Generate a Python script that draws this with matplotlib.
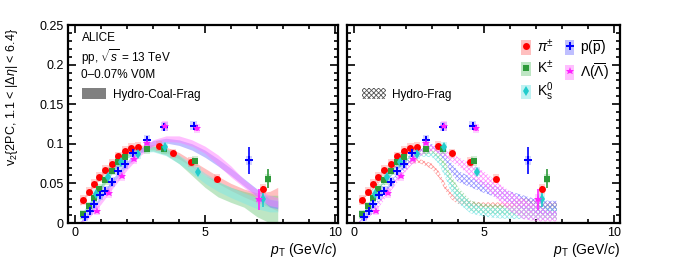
import matplotlib
matplotlib.use('Agg')
import matplotlib.pyplot as plt
from matplotlib.patches import Rectangle, Patch
from matplotlib.lines import Line2D
from matplotlib.ticker import MultipleLocator

plt.rcParams['font.family'] = ['Liberation Sans', 'DejaVu Sans']
plt.rcParams['mathtext.fontset'] = 'custom'
plt.rcParams['mathtext.rm'] = 'Liberation Sans'
plt.rcParams['mathtext.it'] = 'Liberation Sans:italic'
plt.rcParams['mathtext.bf'] = 'Liberation Sans:bold'
plt.rcParams['hatch.linewidth'] = 0.6

# measured v2 (ALICE, pp 13 TeV, 0-0.07% V0M)
pi_pt = [0.32, 0.55, 0.74, 0.94, 1.17, 1.41, 1.67, 1.94, 2.17, 2.42, 3.23, 3.78, 4.45, 5.47, 7.23]
pi_v2 = [0.029, 0.0395, 0.049, 0.058, 0.067, 0.075, 0.084, 0.091, 0.095, 0.096, 0.097, 0.088, 0.077, 0.056, 0.043]
pi_err = [0.001, 0.001, 0.001, 0.001, 0.001, 0.001, 0.001, 0.001, 0.001, 0.001, 0.001, 0.001, 0.002, 0.002, 0.004]

k_pt = [0.32, 0.55, 0.74, 0.94, 1.17, 1.41, 1.67, 1.92, 2.77, 3.42, 4.63, 7.42]
k_v2 = [0.011, 0.021, 0.032, 0.043, 0.054, 0.066, 0.077, 0.083, 0.0934, 0.093, 0.078, 0.056]
k_err = [0.001, 0.001, 0.001, 0.001, 0.001, 0.001, 0.001, 0.001, 0.002, 0.002, 0.003, 0.012]

k0_pt = [0.81, 1.26, 1.77, 2.42, 3.46, 4.74, 7.24]
k0_v2 = [0.037, 0.058, 0.077, 0.087, 0.096, 0.065, 0.030]
k0_err = [0.001, 0.001, 0.001, 0.001, 0.002, 0.003, 0.010]

p_pt = [0.38, 0.58, 0.74, 0.96, 1.17, 1.41, 1.67, 1.92, 2.24, 2.77, 3.44, 4.56, 6.69]
p_v2 = [0.008, 0.0155, 0.024, 0.035, 0.041, 0.052, 0.066, 0.074, 0.089, 0.105, 0.1216, 0.123, 0.079]
p_err = [0.001, 0.001, 0.001, 0.001, 0.001, 0.001, 0.001, 0.002, 0.002, 0.003, 0.003, 0.003, 0.017]

lam_pt = [0.86, 1.31, 1.79, 2.27, 2.77, 3.47, 4.68, 7.08]
lam_v2 = [0.0155, 0.038, 0.059, 0.081, 0.1006, 0.1225, 0.1195, 0.030]
lam_err = [0.001, 0.001, 0.002, 0.002, 0.002, 0.003, 0.003, 0.013]

# Hydro-Coal-Frag bands (left panel)
coal_pt = [0.2, 0.5, 1.0, 1.5, 2.0, 2.5, 3.0, 3.5, 4.0, 4.5, 5.0, 5.5, 6.0, 6.5, 7.0, 7.5, 7.8]
coal_pi_lo = [0.022, 0.036, 0.058, 0.076, 0.088, 0.093, 0.093, 0.089, 0.081, 0.071, 0.060, 0.050, 0.041, 0.033, 0.026, 0.020, 0.015]
coal_pi_hi = [0.026, 0.040, 0.062, 0.080, 0.092, 0.098, 0.099, 0.096, 0.089, 0.079, 0.069, 0.059, 0.050, 0.043, 0.038, 0.040, 0.045]
coal_k_lo = [0.004, 0.018, 0.042, 0.066, 0.082, 0.090, 0.091, 0.086, 0.075, 0.060, 0.045, 0.033, 0.026, 0.020, 0.008, 0.0, 0.0]
coal_k_hi = [0.008, 0.022, 0.047, 0.071, 0.087, 0.095, 0.097, 0.094, 0.085, 0.072, 0.060, 0.052, 0.045, 0.040, 0.036, 0.035, 0.035]
coal_k0_lo = [0.006, 0.020, 0.044, 0.067, 0.082, 0.089, 0.090, 0.085, 0.075, 0.063, 0.050, 0.040, 0.032, 0.025, 0.018, 0.014, 0.014]
coal_k0_hi = [0.010, 0.024, 0.049, 0.072, 0.088, 0.095, 0.097, 0.094, 0.086, 0.075, 0.063, 0.053, 0.045, 0.038, 0.032, 0.030, 0.030]
coal_p_lo = [0.0, 0.008, 0.030, 0.052, 0.072, 0.088, 0.098, 0.101, 0.098, 0.092, 0.083, 0.072, 0.060, 0.047, 0.034, 0.020, 0.018]
coal_p_hi = [0.002, 0.012, 0.035, 0.058, 0.078, 0.094, 0.104, 0.107, 0.105, 0.100, 0.092, 0.081, 0.069, 0.056, 0.043, 0.030, 0.028]
coal_lam_lo = [0.0, 0.005, 0.024, 0.046, 0.067, 0.085, 0.097, 0.103, 0.102, 0.097, 0.088, 0.073, 0.058, 0.045, 0.032, 0.022, 0.020]
coal_lam_hi = [0.002, 0.009, 0.030, 0.053, 0.074, 0.092, 0.105, 0.110, 0.110, 0.105, 0.097, 0.086, 0.072, 0.055, 0.042, 0.035, 0.032]

# Hydro-Frag bands (right panel)
frag_pt = [0.2, 0.5, 1.0, 1.5, 2.0, 2.5, 3.0, 3.25, 3.5, 3.75, 4.0, 4.5, 5.0, 5.5, 6.0, 6.5, 7.0, 7.5, 7.8]
frag_pi_lo = [0.024, 0.034, 0.052, 0.066, 0.074, 0.076, 0.068, 0.058, 0.042, 0.030, 0.024, 0.021, 0.020, 0.020, 0.020, 0.022, 0.020, 0.018, 0.018]
frag_pi_hi = [0.028, 0.038, 0.057, 0.071, 0.079, 0.081, 0.075, 0.066, 0.050, 0.037, 0.031, 0.027, 0.026, 0.026, 0.026, 0.032, 0.028, 0.026, 0.026]
frag_k_lo = [0.004, 0.016, 0.040, 0.062, 0.078, 0.086, 0.087, 0.080, 0.065, 0.045, 0.030, 0.015, 0.012, 0.011, 0.010, 0.009, 0.008, 0.006, 0.005]
frag_k_hi = [0.008, 0.021, 0.045, 0.067, 0.083, 0.092, 0.093, 0.088, 0.078, 0.060, 0.045, 0.028, 0.024, 0.023, 0.022, 0.021, 0.020, 0.024, 0.025]
frag_k0_lo = [0.005, 0.017, 0.040, 0.062, 0.077, 0.084, 0.083, 0.075, 0.058, 0.038, 0.025, 0.012, 0.008, 0.006, 0.005, 0.005, 0.004, 0.004, 0.004]
frag_k0_hi = [0.009, 0.022, 0.046, 0.068, 0.083, 0.090, 0.090, 0.084, 0.070, 0.052, 0.040, 0.025, 0.020, 0.019, 0.019, 0.020, 0.020, 0.020, 0.020]
frag_p_lo = [0.0, 0.007, 0.028, 0.050, 0.070, 0.087, 0.094, 0.088, 0.078, 0.062, 0.052, 0.045, 0.038, 0.032, 0.025, 0.018, 0.012, 0.010, 0.010]
frag_p_hi = [0.002, 0.011, 0.033, 0.056, 0.076, 0.093, 0.100, 0.095, 0.088, 0.076, 0.066, 0.058, 0.052, 0.046, 0.040, 0.035, 0.030, 0.028, 0.028]
frag_lam_lo = [0.0, 0.004, 0.022, 0.044, 0.065, 0.084, 0.091, 0.088, 0.083, 0.078, 0.072, 0.058, 0.045, 0.030, 0.015, 0.005, 0.002, 0.002, 0.002]
frag_lam_hi = [0.002, 0.008, 0.028, 0.051, 0.072, 0.091, 0.099, 0.096, 0.092, 0.088, 0.083, 0.075, 0.065, 0.052, 0.040, 0.030, 0.022, 0.015, 0.015]

species = [
    # label, pt, v2, err, color, band colour, marker, size
    (r'$\pi^{\pm}$', pi_pt, pi_v2, pi_err, '#ff0000', '#ff8080', 'o', 5.0),
    (r'K$^{\pm}$', k_pt, k_v2, k_err, '#2e9a3a', '#7fcf8a', 's', 4.6),
    (r'K$^{0}_{\rm s}$', k0_pt, k0_v2, k0_err, '#22cccc', '#80e6e6', 'd', 5.2),
    (r'p($\overline{\rm p}$)', p_pt, p_v2, p_err, '#0000ff', '#8080ff', 'P', 5.8),
    (r'$\Lambda(\overline{\Lambda})$', lam_pt, lam_v2, lam_err, '#ff22ff', '#ff80ff', '*', 6.2),
]
coal_bands = [(coal_pi_lo, coal_pi_hi), (coal_k_lo, coal_k_hi), (coal_k0_lo, coal_k0_hi),
              (coal_p_lo, coal_p_hi), (coal_lam_lo, coal_lam_hi)]
frag_bands = [(frag_pi_lo, frag_pi_hi), (frag_k_lo, frag_k_hi), (frag_k0_lo, frag_k0_hi),
              (frag_p_lo, frag_p_hi), (frag_lam_lo, frag_lam_hi)]

W, H = 689, 263
fig = plt.figure(figsize=(W / 100, H / 100), dpi=100)
ax1 = fig.add_axes([68 / W, 1 - 223 / H, 269.5 / W, 198 / H])
ax2 = fig.add_axes([346.7 / W, 1 - 223 / H, 273.3 / W, 198 / H])
ax1.set_xlim(-0.27, 10.1)
ax2.set_xlim(-0.28, 10.23)


def draw_points(ax):
    for label, pt, v2, err, col, bcol, mk, ms in species:
        for x, y in zip(pt, v2):
            ax.add_patch(Rectangle((x - 0.12, y - 0.006), 0.24, 0.012, facecolor=bcol,
                                   alpha=0.35, linewidth=0, zorder=4))
        ax.errorbar(pt, v2, yerr=err, fmt=mk, color=col, ms=ms, mew=0, elinewidth=1.2,
                    capsize=0, zorder=5)


for (label, pt, v2, err, col, bcol, mk, ms), (lo, hi) in zip(species, coal_bands):
    ax1.fill_between(coal_pt[:len(lo)], lo, hi, color=bcol, alpha=0.5, linewidth=0, zorder=2)

for (label, pt, v2, err, col, bcol, mk, ms), (lo, hi) in zip(species, frag_bands):
    ax2.fill_between(frag_pt[:len(lo)], lo, hi, facecolor='none',
                     edgecolor=matplotlib.colors.to_rgba(bcol, 0.8),
                     hatch='xxxxxxx', linewidth=0, zorder=2)

draw_points(ax1)
draw_points(ax2)

for ax in (ax1, ax2):
    ax.set_ylim(0, 0.25)
    ax.xaxis.set_major_locator(MultipleLocator(5))
    ax.xaxis.set_minor_locator(MultipleLocator(1))
    ax.yaxis.set_major_locator(MultipleLocator(0.05))
    ax.yaxis.set_minor_locator(MultipleLocator(0.01))
    ax.tick_params(which='both', direction='in', top=True, right=True, labelsize=9,
                   width=1.2)
    ax.tick_params(which='major', length=6, pad=3)
    ax.tick_params(which='minor', length=3)
    for s in ax.spines.values():
        s.set_linewidth(1.6)
    ax.set_xlabel(r'$p_{\rm T}$ (GeV/$c$)', fontsize=10, loc='right', labelpad=1)

ax1.set_yticks([0, 0.05, 0.1, 0.15, 0.2, 0.25])
ax1.set_yticklabels(['0', '0.05', '0.1', '0.15', '0.2', '0.25'])
ax2.tick_params(labelleft=False)

fig.text(12 / W, 1 - 28 / H, r'v$_2${2PC, 1.1 < |$\Delta\eta$| < 6.4}', rotation=90,
         va='top', ha='center', fontsize=9)

ax1.text(0.05, 0.935, 'ALICE', transform=ax1.transAxes, fontsize=8.5, va='center')
ax1.text(0.05, 0.84, r'pp, $\sqrt{s}$ = 13 TeV', transform=ax1.transAxes, fontsize=8.5,
         va='center')
ax1.text(0.05, 0.745, '0\u20130.07% V0M', transform=ax1.transAxes, fontsize=8.5, va='center')
ax1.legend(handles=[Patch(facecolor='#808080', edgecolor='none')], labels=['Hydro-Coal-Frag'],
           loc='upper left', bbox_to_anchor=(0.03, 0.71), frameon=False, fontsize=8.5,
           handlelength=2.0, handleheight=1.0, handletextpad=0.6, borderpad=0)

leg_frag = ax2.legend(handles=[Patch(facecolor='none', edgecolor='#555555', hatch='xxxxxxx',
                                     linewidth=0)],
                      labels=['Hydro-Frag'], loc='upper left', bbox_to_anchor=(0.035, 0.71),
                      frameon=False, fontsize=8.5, handlelength=2.0, handleheight=1.0,
                      handletextpad=0.5, borderpad=0)
ax2.add_artist(leg_frag)

handles = []
for label, pt, v2, err, col, bcol, mk, ms in species:
    handles.append((Patch(facecolor=bcol, alpha=0.5, linewidth=0),
                    Line2D([], [], marker=mk, color=col, ms=ms, mew=0, linestyle='none')))
ax2.legend(handles=handles, labels=[s[0] for s in species], ncol=2, loc='upper right',
           bbox_to_anchor=(0.985, 0.97), frameon=False, fontsize=10, handlelength=0.7,
           handleheight=1.2, handletextpad=0.4, columnspacing=0.8, labelspacing=0.3,
           borderpad=0)

fig.savefig('out.png', dpi=100)
